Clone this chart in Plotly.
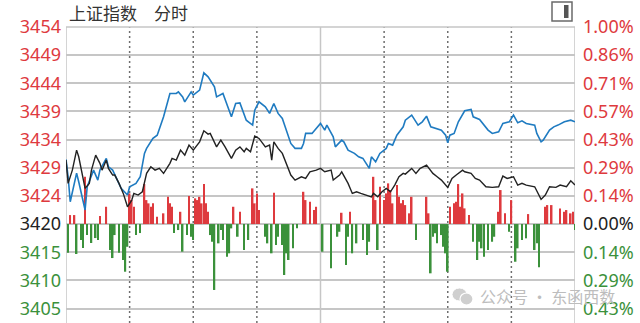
import plotly.graph_objects as go

# ---------------- data ----------------
BASE = 3419.6  # previous close (0.00% line)

blue_t = [0,1,2,4,5,6,8,9,10,12,13,15,16,19,20,22,24,26,29,30,33,35,37,38,41,43,46,49,52,53,55,56,59,60,63,65,67,70,71,74,78,80,82,83,85,86,88,89,91,94,96,98,100,102,104,106,108,111,112,113,116,118,120,122,123,126,127,130,131,133,136,138,140,143,144,146,148,151,152,154,156,159,160,163,166,168,170,172,174,177,179,180,181,183,185,188,191,192,195,197,199,201,204,206,209,211,213,215,217,221,222,224,225,228,230,232,235,238,240]
blue_p = [3430.82,3427.80,3423.47,3426.71,3428.44,3426.93,3423.76,3422.03,3426.07,3427.80,3428.96,3427.23,3428.96,3430.99,3429.54,3428.96,3427.23,3425.79,3424.63,3426.07,3426.66,3427.80,3431.86,3432.73,3434.46,3435.03,3438.21,3442.26,3442.26,3442.54,3441.67,3440.81,3442.54,3441.97,3442.84,3445.84,3445.14,3443.41,3441.67,3442.26,3438.21,3440.53,3440.63,3439.66,3437.63,3437.34,3436.77,3439.37,3440.81,3439.94,3438.80,3440.53,3438.80,3437.93,3435.60,3433.59,3432.73,3432.73,3433.59,3435.33,3435.33,3436.19,3437.06,3435.90,3436.77,3434.74,3433.00,3434.17,3433.87,3432.43,3431.86,3431.27,3430.99,3429.26,3431.27,3430.40,3431.86,3432.73,3433.59,3433.30,3435.03,3436.47,3437.63,3438.50,3436.77,3437.34,3438.33,3436.47,3436.19,3435.90,3435.03,3433.70,3435.03,3435.33,3437.34,3439.25,3439.49,3438.21,3437.75,3436.77,3435.90,3435.33,3435.60,3437.06,3437.34,3438.50,3437.17,3437.51,3437.06,3436.77,3435.33,3433.87,3434.17,3435.90,3436.47,3436.77,3437.34,3437.63,3437.34]

black_t = [0,1,3,5,6,8,9,11,12,14,16,17,19,20,22,23,25,27,29,31,32,34,36,38,40,42,44,46,49,50,52,54,56,58,60,63,65,67,68,71,73,75,78,80,82,84,85,87,89,91,94,96,97,98,100,102,104,106,108,111,113,115,118,120,122,125,126,129,130,133,135,137,139,141,144,145,147,149,151,153,155,157,159,160,163,165,167,170,173,175,177,180,182,184,187,188,191,193,195,198,201,204,206,208,211,213,215,217,221,224,226,228,231,233,236,238,240]
black_p = [3430.70,3426.66,3428.96,3432.43,3431.27,3427.80,3425.79,3426.66,3428.96,3431.56,3430.13,3428.96,3430.70,3429.26,3428.10,3428.10,3426.66,3424.92,3422.60,3423.76,3424.92,3424.63,3425.20,3428.39,3429.54,3428.96,3429.26,3428.39,3430.13,3430.99,3430.70,3432.43,3431.56,3433.30,3432.43,3433.87,3435.78,3435.21,3435.33,3433.00,3434.17,3433.00,3430.99,3432.43,3433.00,3432.14,3432.73,3432.14,3434.86,3434.46,3433.00,3433.30,3430.70,3433.87,3432.73,3431.86,3430.13,3428.10,3427.23,3427.80,3427.52,3428.67,3428.96,3429.26,3428.67,3428.96,3427.23,3428.10,3428.67,3426.66,3424.92,3425.20,3424.92,3424.63,3424.33,3424.92,3424.33,3425.20,3425.79,3425.20,3426.36,3427.80,3428.39,3428.27,3429.26,3428.39,3429.26,3429.83,3428.39,3427.80,3427.23,3425.96,3427.52,3428.10,3428.96,3428.67,3428.39,3427.52,3427.23,3426.07,3425.96,3426.07,3427.92,3427.52,3427.80,3426.36,3426.66,3426.36,3426.07,3423.88,3424.63,3426.07,3425.96,3426.36,3426.07,3427.11,3426.36]

red_t = [2,4,9,16,19,30,31,32,37,38,39,40,41,43,46,48,49,50,54,58,61,62,63,64,65,66,67,79,82,88,89,90,91,98,112,113,115,117,118,130,134,145,146,148,150,151,152,153,154,156,157,158,159,160,162,163,170,171,181,183,184,185,186,187,188,190,204,205,207,210,218,226,227,229,233,235,236,238,239]
red_v = [1.56,1.56,8.20,1.39,3.00,5.32,4.16,3.00,6.94,4.16,3.59,3.00,3.59,1.27,1.86,4.73,3.59,3.00,2.13,4.86,4.46,4.16,4.73,3.59,6.94,3.59,2.13,3.00,2.13,6.19,3.59,5.32,2.43,5.43,5.60,4.16,3.87,2.43,3.00,1.96,2.13,8.20,4.16,6.47,4.16,5.32,7.06,5.90,3.59,6.76,4.73,3.59,4.16,3.29,1.86,4.73,4.73,1.86,3.00,3.59,3.87,6.94,3.00,5.32,2.72,1.56,2.13,5.90,1.86,4.16,1.73,3.00,3.29,3.29,2.72,2.13,2.43,1.86,2.13]

green_t = [1,5,7,8,10,12,14,15,21,22,23,25,27,28,29,33,35,51,53,55,57,59,60,68,69,70,72,73,74,76,77,78,81,84,86,94,95,97,99,100,102,103,104,105,107,109,121,125,128,129,132,133,135,137,140,142,143,147,165,172,173,174,175,177,178,179,180,192,194,195,196,197,199,201,202,209,212,213,215,217,221,222,223,240]
green_v = [-4.98,-5.20,-2.77,-4.16,-1.91,-3.29,-2.43,-2.77,-4.51,-5.90,-1.91,-4.98,-6.24,-8.27,-3.94,-1.91,-1.56,-1.56,-1.04,-4.80,-1.91,-2.20,-2.77,-1.91,-3.07,-11.44,-3.35,-1.04,-2.77,-5.67,-5.08,-0.75,-2.20,-4.51,-2.77,-2.20,-3.35,-5.08,-3.64,-2.20,-3.64,-8.84,-5.08,-6.24,-4.21,-0.75,-4.80,-7.68,-2.20,-1.34,-7.11,-2.20,-5.08,-3.35,-2.77,-5.38,-3.07,-4.51,-2.77,-8.55,-2.20,-1.61,-3.35,-1.91,-3.94,-5.08,-8.27,-3.07,-6.24,-3.07,-4.21,-5.67,-4.51,-3.07,-2.20,-1.34,-6.54,-4.21,-2.77,-2.48,-4.51,-3.35,-7.51,-1.04]

left_labels = ['3405','3410','3415','3420','3424','3429','3434','3439','3444','3449','3454']
right_labels = ['0.43%','0.29%','0.14%','0.00%','0.14%','0.29%','0.43%','0.57%','0.71%','0.86%','1.00%']
tick_steps = [-3,-2,-1,0,1,2,3,4,5,6,7]
time_grid = [30, 60, 90, 150, 180, 210]
midday = 120

TITLE = '上证指数\u3000分时'
WATERMARK = '公众号 · 东函西数'

# ---------------- styling ----------------
RED = '#de3a3e'
GREEN = '#3b913b'
DARK = '#222222'
BLUE = '#1f7bc1'
GRID = '#c6c6c6'
W, H = 640, 323
L, R, T, B = 66, 65, 27, 0
PW, PH = W - L - R, H - T - B

def px(x):
    return (x - L) / PW

def py(y):
    return (H - B - y) / PH

STEP = 0.01 / 7
tick_vals = [BASE * (1 + k * STEP) for k in tick_steps]
y_range = [BASE * (1 - 3.515 * STEP), BASE * (1 + 7 * STEP)]

def colored(text, k):
    c = RED if k > 0 else (GREEN if k < 0 else DARK)
    return f'<span style="color:{c}">{text}</span>'

left_text = [colored(t, k) for t, k in zip(left_labels, tick_steps)]
right_text = [colored(t, k) for t, k in zip(right_labels, tick_steps)]

fig = go.Figure()
fig.add_trace(go.Bar(x=red_t, y=red_v, base=BASE, width=0.75,
                     marker=dict(color=RED, line=dict(width=0)), hoverinfo='skip'))
fig.add_trace(go.Bar(x=green_t, y=green_v, base=BASE, width=0.75,
                     marker=dict(color=GREEN, line=dict(width=0)), hoverinfo='skip'))
fig.add_trace(go.Scatter(x=blue_t, y=blue_p, mode='lines',
                         line=dict(color=BLUE, width=1.6), hoverinfo='skip'))
fig.add_trace(go.Scatter(x=black_t, y=black_p, mode='lines',
                         line=dict(color=DARK, width=1.4), hoverinfo='skip'))

shapes = []
for t in time_grid:
    shapes.append(dict(type='line', xref='x', yref='paper', x0=t, x1=t, y0=0, y1=1,
                       line=dict(color='#6e6e6e', width=1.5, dash='2px,3px'), layer='below'))
for t in [0, midday, 240]:
    shapes.append(dict(type='line', xref='x', yref='paper', x0=t, x1=t, y0=0, y1=1,
                       line=dict(color=GRID, width=1.5), layer='below'))
shapes.append(dict(type='line', xref='paper', yref='paper', x0=0, x1=1, y0=1, y1=1,
                   line=dict(color=GRID, width=1.5), layer='below'))
# top-right toggle icon
shapes.append(dict(type='rect', xref='paper', yref='paper', x0=px(552), x1=px(572), y0=py(21), y1=py(2),
                   line=dict(color='#6a6a6a', width=1.5), fillcolor='rgba(0,0,0,0)'))
shapes.append(dict(type='rect', xref='paper', yref='paper', x0=px(564), x1=px(568.5), y0=py(18), y1=py(5),
                   line=dict(width=0), fillcolor='#555555'))
# watermark icon (two chat bubbles)
shapes.append(dict(type='circle', xref='paper', yref='paper', x0=px(452), x1=px(467), y0=py(301), y1=py(288),
                   line=dict(color='white', width=1), fillcolor='#cfcfcf'))
shapes.append(dict(type='circle', xref='paper', yref='paper', x0=px(460), x1=px(473), y0=py(305), y1=py(293),
                   line=dict(color='white', width=1.2), fillcolor='#cfcfcf'))

annotations = [
    dict(text=TITLE, xref='paper', yref='paper', x=px(67), y=py(13), xanchor='left', yanchor='middle',
         showarrow=False, font=dict(family='Noto Sans CJK SC', size=17, color='#333333')),
    dict(text=WATERMARK, xref='paper', yref='paper', x=px(478), y=py(296), xanchor='left', yanchor='middle',
         showarrow=False, font=dict(family='Noto Sans CJK SC', size=16, color='#bdbdbd')),
]

fig.update_layout(
    width=W, height=H,
    margin=dict(l=L, r=R, t=T, b=B, pad=0),
    paper_bgcolor='white', plot_bgcolor='white',
    showlegend=False, barmode='overlay',
    shapes=shapes, annotations=annotations,
    xaxis=dict(range=[0, 240], showgrid=False, zeroline=False, showticklabels=False,
               ticks='', showline=False, fixedrange=True),
    yaxis=dict(range=y_range, tickvals=tick_vals, ticktext=left_text, side='left',
               showgrid=True, gridcolor=GRID, gridwidth=1.5, zeroline=False, ticks='',
               ticklabelstandoff=4, tickfont=dict(family='Noto Sans', size=18, color=DARK),
               fixedrange=True),
    yaxis2=dict(range=y_range, tickvals=tick_vals, ticktext=right_text, side='right',
                overlaying='y', showgrid=False, zeroline=False, ticks='',
                ticklabelstandoff=7, tickfont=dict(family='Noto Sans', size=18, color=DARK),
                fixedrange=True),
)
fig.add_trace(go.Scatter(x=[0], y=[BASE], yaxis='y2', mode='markers', marker=dict(opacity=0),
                         hoverinfo='skip'))

fig.write_html('out.html')
